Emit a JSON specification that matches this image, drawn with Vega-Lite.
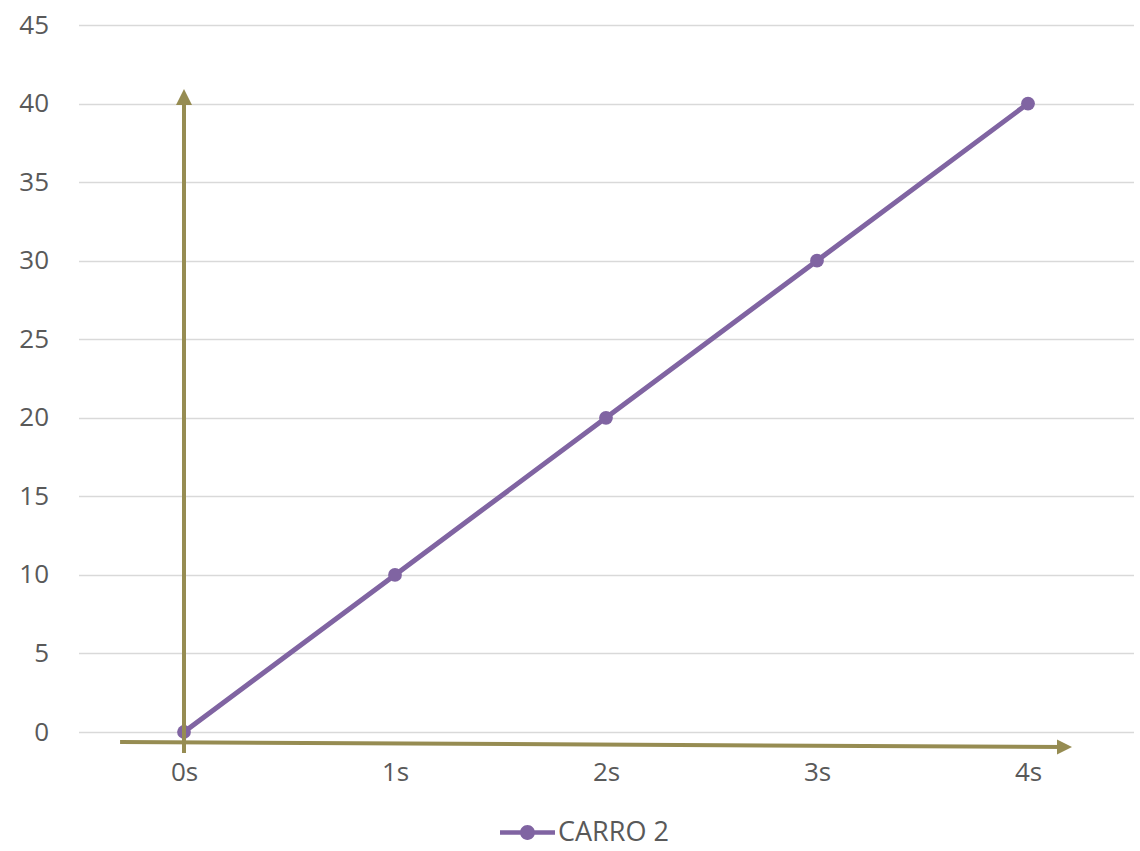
{
  "$schema": "https://vega.github.io/schema/vega-lite/v6.json",
  "width": 1055,
  "height": 707,
  "autosize": {"type": "none"},
  "padding": {"left": 78.5, "top": 25, "right": 6.5, "bottom": 119},
  "background": "white",
  "config": {"view": {"stroke": null}, "font": "Open Sans"},
  "layer": [
    {
      "data": {"values": [
        {"t": 0, "v": 0, "serie": "CARRO 2"},
        {"t": 1, "v": 10, "serie": "CARRO 2"},
        {"t": 2, "v": 20, "serie": "CARRO 2"},
        {"t": 3, "v": 30, "serie": "CARRO 2"},
        {"t": 4, "v": 40, "serie": "CARRO 2"}
      ]},
      "mark": {"type": "line", "strokeWidth": 5, "point": {"size": 190, "filled": true, "opacity": 1}},
      "encoding": {
        "x": {
          "field": "t", "type": "quantitative",
          "scale": {"domain": [-0.5, 4.5], "nice": false, "zero": false},
          "axis": {"values": [0, 1, 2, 3, 4], "labelExpr": "datum.value + 's'", "domain": false, "ticks": false, "grid": false, "labelPadding": 27, "labelFontSize": 26, "labelColor": "#595959", "title": null}
        },
        "y": {
          "field": "v", "type": "quantitative",
          "scale": {"domain": [0, 45], "nice": false},
          "axis": {"values": [0, 5, 10, 15, 20, 25, 30, 35, 40, 45], "grid": true, "gridColor": "#D9D9D9", "gridWidth": 1.5, "domain": false, "ticks": false, "labelPadding": 30, "labelFontSize": 26, "labelColor": "#595959", "title": null}
        },
        "color": {
          "field": "serie", "type": "nominal",
          "scale": {"range": ["#8064A2"]},
          "legend": {
            "orient": "none", "legendX": 421.5, "legendY": 780, "title": null,
            "symbolType": "M-1,-0.08H1V0.08H-1Z M0.27,0A0.27,0.27,0,1,1,-0.27,0A0.27,0.27,0,1,1,0.27,0Z",
            "symbolSize": 3025, "symbolFillColor": "#8064A2", "symbolStrokeColor": "#8064A2", "symbolStrokeWidth": 0,
            "labelFontSize": 27, "labelColor": "#595959", "labelOffset": 3
          }
        }
      }
    },
    {
      "data": {"values": [
        {"x": -0.303, "y": -0.636, "x2": 4.17, "y2": -0.955},
        {"x": 0, "y": -1.34, "x2": 0, "y2": 40.4}
      ]},
      "mark": {"type": "rule", "color": "#968C52", "strokeWidth": 4},
      "encoding": {
        "x": {"field": "x", "type": "quantitative"},
        "y": {"field": "y", "type": "quantitative"},
        "x2": {"field": "x2"},
        "y2": {"field": "y2"}
      }
    },
    {
      "data": {"values": [{"x": 0, "y": 40.42}]},
      "mark": {"type": "point", "shape": "M0,-1L1,1L-1,1Z", "size": 256, "filled": true, "color": "#968C52", "opacity": 1},
      "encoding": {
        "x": {"field": "x", "type": "quantitative"},
        "y": {"field": "y", "type": "quantitative"}
      }
    },
    {
      "data": {"values": [{"x": 4.173, "y": -0.955}]},
      "mark": {"type": "point", "shape": "M1,0L-1,-1L-1,1Z", "size": 225, "filled": true, "color": "#968C52", "opacity": 1},
      "encoding": {
        "x": {"field": "x", "type": "quantitative"},
        "y": {"field": "y", "type": "quantitative"}
      }
    }
  ]
}
